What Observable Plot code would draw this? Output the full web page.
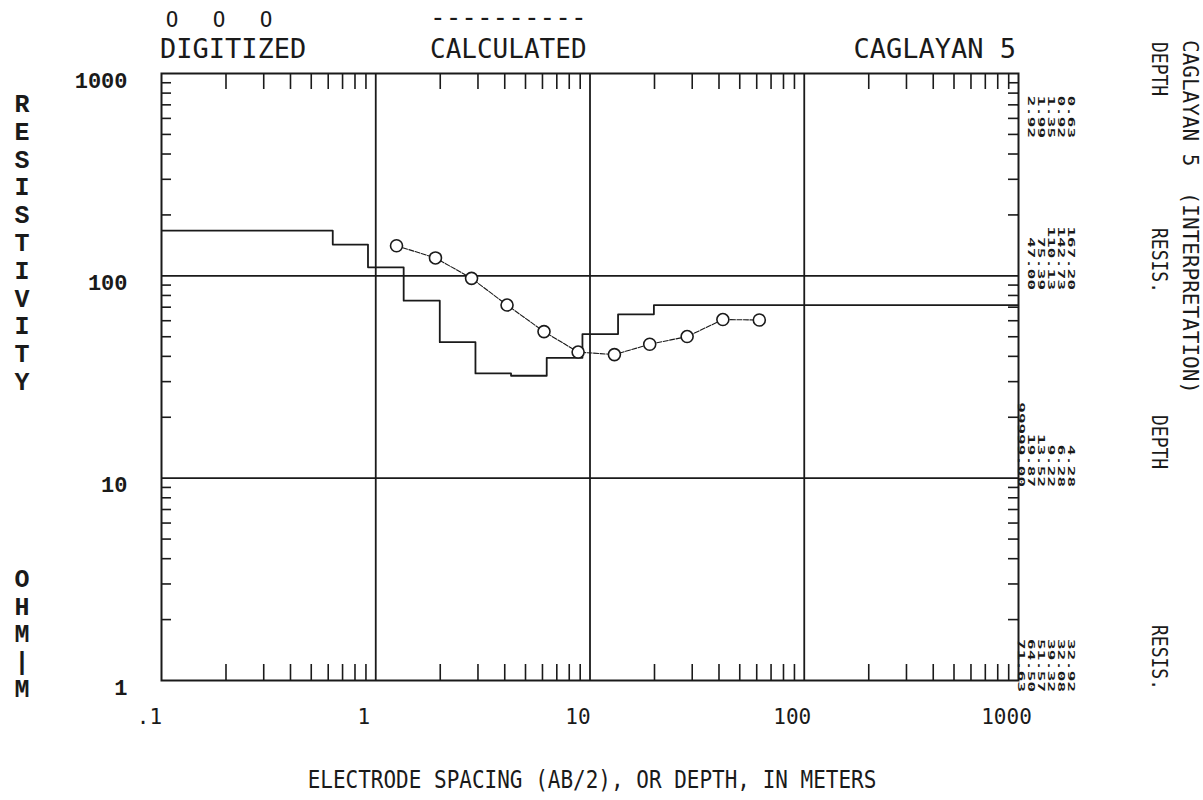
<!DOCTYPE html>
<html><head><meta charset="utf-8">
<script src="https://cdn.jsdelivr.net/npm/d3@7"></script>
<script src="https://cdn.jsdelivr.net/npm/@observablehq/plot@0.6"></script>
<style>body{margin:0;background:#fff}#chart{width:1203px;height:800px}</style>
</head><body><div id="chart"></div>
<script>
// Digitized sounding (AB/2 in m, apparent resistivity in ohm-m)
const spacing = [1.25, 1.9, 2.8, 4.1, 6.1, 8.8, 13, 19, 28.4, 41.7, 61.7];
const digitized = [140.8, 122.6, 97.2, 71.7, 53.0, 42.0, 40.8, 45.9, 50.1, 60.8, 60.5];
// Interpretation (layer bottoms and layer resistivities)
const layerDepth = [0.63, 0.92, 1.35, 1.99, 2.92, 4.28, 6.28, 9.22, 13.52, 19.87, 99999.00];
const layerResis = [167.20, 142.73, 110.13, 75.39, 47.00, 32.92, 32.08, 39.32, 51.57, 64.50, 71.63];
const depthText = ["0.63", "0.92", "1.35", "1.99", "2.92", "4.28", "6.28", "9.22", "13.52", "19.87", "99999.00"];
const resisText = ["167.20", "142.73", "110.13", "75.39", "47.00", "32.92", "32.08", "39.32", "51.57", "64.50", "71.63"];
// Axes
const xTicks = [0.1, 1, 10, 100, 1000];
const xTickLabels = [".1", "1", "10", "100", "1000"];
const yTicks = [1, 10, 100, 1000];
const yTickLabels = ["1", "10", "100", "1000"];
const xGrid = [1, 10, 100];
const yGrid = [10, 100];
const minorMult = [2, 3, 4, 5, 6, 7, 8, 9];

const W = 1203, H = 800, mL = 161, mR = 185, mT = 73, mB = 120;
const plotW = W - mL - mR, plotH = H - mT - mB;

const minorX = [0.1, 1, 10, 100].flatMap(d => minorMult.map(m => +(d * m).toPrecision(3)));
const minorY = [1, 10, 100].flatMap(d => minorMult.map(m => d * m));

const obs = spacing.map((s, i) => ({s, r: digitized[i]}));
const steps = [{d: 0.1, r: layerResis[0]}].concat(
  layerDepth.map((d, i) => ({d, r: layerResis[Math.min(i + 1, layerResis.length - 1)]})));

const ink = "#1a1a1a";
const plot = Plot.plot({
  width: W, height: H,
  marginLeft: mL, marginRight: mR, marginTop: mT, marginBottom: mB,
  x: {type: "log", domain: [0.1, 1000], axis: null},
  y: {type: "log", domain: [1, 1000], axis: null},
  style: {background: "white", color: ink},
  marks: [
    Plot.ruleX(xGrid, {stroke: ink, strokeWidth: 1.8}),
    Plot.ruleY(yGrid, {stroke: ink, strokeWidth: 1.8}),
    Plot.ruleX(minorX, {stroke: ink, strokeWidth: 1.6, insetTop: plotH - 16}),
    Plot.ruleX(minorX, {stroke: ink, strokeWidth: 1.6, insetBottom: plotH - 16}),
    Plot.ruleY(minorY, {stroke: ink, strokeWidth: 1.6, insetRight: plotW - 10}),
    Plot.ruleY(minorY, {stroke: ink, strokeWidth: 1.6, insetLeft: plotW - 10}),
    Plot.line(steps, {x: "d", y: "r", curve: "step-after", stroke: ink, strokeWidth: 1.8, clip: true}),
    Plot.line(obs, {x: "s", y: "r", stroke: ink, strokeWidth: 1.1, strokeDasharray: "5,1.5"}),
    Plot.dot(obs, {x: "s", y: "r", r: 6, stroke: ink, strokeWidth: 1.6, fill: "white"}),
    Plot.frame({stroke: ink, strokeWidth: 2}),
    Plot.axisX({ticks: xTicks, tickFormat: d => xTickLabels[xTicks.indexOf(d)], tickSize: 0, tickPadding: 29, dx: -12,
      fontSize: 21, fontFamily: "DejaVu Sans Mono", label: null}),
    Plot.axisY({ticks: yTicks, tickFormat: d => yTickLabels[yTicks.indexOf(d)], tickSize: 0, tickPadding: 34, dy: 7,
      fontSize: 22, fontFamily: "Liberation Mono", fontWeight: "bold", label: null})
  ]
});
document.getElementById("chart").appendChild(plot);

const svg = d3.select(plot);
const mono = "DejaVu Sans Mono";
function txt(x, y, s, o = {}) {
  const t = svg.append("text").attr("x", x).attr("y", y).text(s)
    .attr("font-family", o.family || mono).attr("font-size", o.size || 26)
    .attr("fill", ink).attr("text-anchor", o.anchor || "start")
    .attr("font-weight", o.weight || "normal");
  if (o.transform) t.attr("transform", o.transform);
  return t;
}
// legend and title row
[172, 219, 266].forEach(x => txt(x, 27, "O", {size: 21, anchor: "middle"}));
txt(430, 26, "----------", {size: 26});
txt(160, 58, "DIGITIZED", {size: 27});
txt(430, 58, "CALCULATED", {size: 26});
txt(1016, 58, "CAGLAYAN 5", {size: 27, anchor: "end"});
// x-axis title
txt(0, 0, "ELECTRODE SPACING (AB/2), OR DEPTH, IN METERS", {size: 21, anchor: "middle", transform: "translate(592,788) scale(1,1.2)"});
// y-axis title (stacked letters)
"RESISTIVITY".split("").forEach((c, i) => txt(22, 112 + i * 27.8, c, {family: "Liberation Mono", weight: "bold", size: 25, anchor: "middle"}));
"OHM|M".split("").forEach((c, i) => txt(22, 587 + i * 27.6, c, {family: "Liberation Mono", weight: "bold", size: 25, anchor: "middle"}));

// right-hand rotated interpretation listing
function rot(x, y, s, o = {}) {
  return txt(0, 0, s, Object.assign({}, o, {transform: `translate(${x},${y}) rotate(90)` + (o.scale ? ` scale(${o.scale})` : "")}));
}
rot(1183, 40, "CAGLAYAN 5  (INTERPRETATION)", {size: 21});
rot(1152, 42, "DEPTH", {size: 18, scale: "1,1.2"});
rot(1152, 228, "RESIS.", {size: 18, scale: "1,1.2"});
rot(1152, 415, "DEPTH", {size: 18, scale: "1,1.2"});
rot(1152, 625, "RESIS.", {size: 18, scale: "1,1.2"});
const pitch = 10, line0 = 1068;
const num = {size: 11, anchor: "end", scale: "1.6,0.85", weight: "bold"};
depthText.slice(0, 5).forEach((s, i) => rot(line0 - i * pitch, 138, s, num));
resisText.slice(0, 5).forEach((s, i) => rot(line0 - i * pitch, 290, s, num));
depthText.slice(5).forEach((s, i) => rot(line0 - i * pitch, 487, s, num));
resisText.slice(5).forEach((s, i) => rot(line0 - i * pitch, 692, s, num));
</script></body></html>
